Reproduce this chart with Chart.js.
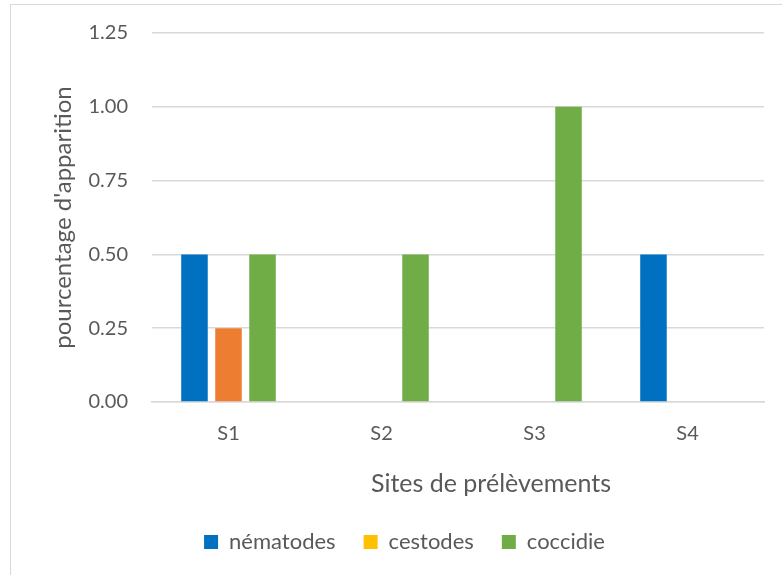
<!DOCTYPE html>
<html>
<head>
<meta charset="utf-8">
<script src="https://cdn.jsdelivr.net/npm/chart.js@4"></script>
<style>
  body { margin: 0; background: #fff; overflow: hidden; }
  #frame {
    position: absolute; left: 10px; top: 4px;
    width: 800px; height: 600px;
    border: 1px solid #d9d9d9;
  }
  #chart { position: absolute; left: 0; top: -8px; }
</style>
</head>
<body>
<div id="frame">
  <canvas id="chart" width="771" height="578"></canvas>
</div>
<script>
const sites = ["S1", "S2", "S3", "S4"];
const nematodes = [0.5, 0, 0, 0.5];
const cestodes = [0.25, 0, 0, 0];
const coccidie = [0.5, 0.5, 1.0, 0];
const yTicks = [0, 0.25, 0.5, 0.75, 1.0, 1.25];

const font = "Lato, 'Open Sans', sans-serif";
const grey = "#595959";
const legendColors = ["#0070C0", "#FFC000", "#70AD47"];
const xTitle = "Sites de prélèvements";

// the x title sits right of the plot centre in the original, so draw it ourselves
const xTitlePlugin = {
  id: "xTitle",
  afterDraw(chart) {
    const { ctx, chartArea } = chart;
    const x = chart.scales.x;
    ctx.save();
    ctx.font = "25px " + font;
    ctx.fillStyle = grey;
    ctx.textAlign = "center";
    ctx.textBaseline = "middle";
    ctx.fillText(xTitle, (chartArea.left + chartArea.right) / 2 + 33, x.bottom - 19);
    ctx.restore();
  }
};

new Chart("chart", {
  type: "bar",
  data: {
    labels: sites,
    datasets: [
      { label: "nématodes", data: nematodes, backgroundColor: "#0070C0" },
      {
        label: "cestodes",
        data: cestodes,
        // S1 bar is orange in the original, the legend swatch is yellow
        backgroundColor: ["#ED7D31", "#FFC000", "#FFC000", "#FFC000"]
      },
      { label: "coccidie", data: coccidie, backgroundColor: "#70AD47" }
    ]
  },
  plugins: [xTitlePlugin],
  options: {
    responsive: false,
    animation: false,
    categoryPercentage: 0.667,
    barPercentage: 0.78,
    layout: { padding: { left: 34, right: 18, top: 6, bottom: 12 } },
    plugins: {
      tooltip: { enabled: false },
      legend: {
        position: "bottom",
        labels: {
          boxWidth: 14,
          boxHeight: 14,
          padding: 28,
          color: grey,
          font: { family: font, size: 22 },
          generateLabels: chart => chart.data.datasets.map((ds, i) => ({
            text: ds.label,
            fillStyle: legendColors[i],
            strokeStyle: legendColors[i],
            lineWidth: 0,
            fontColor: grey,
            datasetIndex: i
          }))
        }
      }
    },
    scales: {
      x: {
        grid: { display: false },
        border: { display: true, color: "#d9d9d9", width: 1.5 },
        ticks: { color: grey, padding: 12, font: { family: font, size: 20 } },
        afterFit: axis => { axis.height += 45; }
      },
      y: {
        min: 0,
        max: 1.25,
        afterBuildTicks: axis => { axis.ticks = yTicks.map(v => ({ value: v })); },
        afterFit: axis => { axis.width = 107; },
        grid: { color: "#d9d9d9", lineWidth: 1.5, drawTicks: false },
        border: { display: false },
        ticks: {
          color: grey,
          padding: 24,
          font: { family: font, size: 20 },
          callback: v => Number(v).toFixed(2)
        },
        title: {
          display: true,
          text: "pourcentage d'apparition",
          color: grey,
          padding: { top: 4, bottom: 4 },
          font: { family: font, size: 24 }
        }
      }
    }
  }
});
</script>
</body>
</html>
